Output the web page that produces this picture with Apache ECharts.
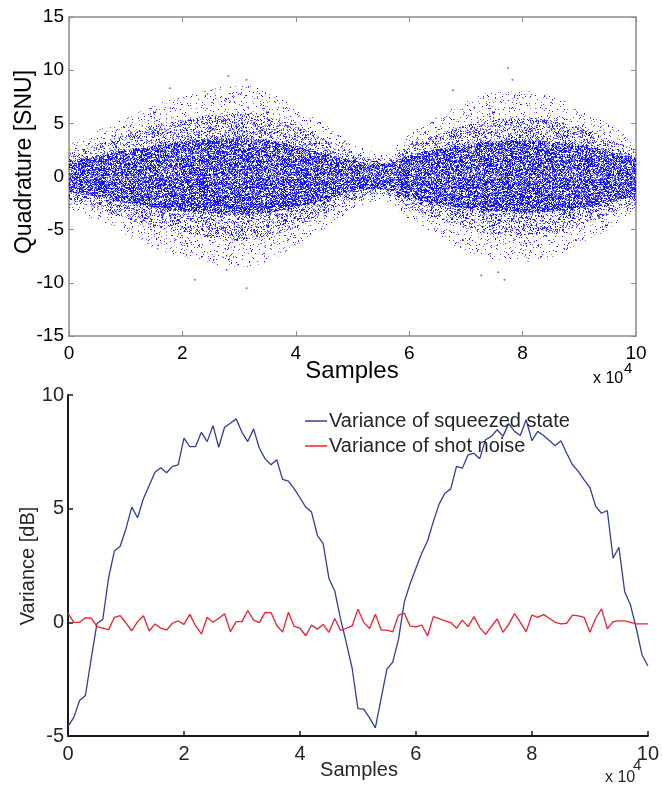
<!DOCTYPE html>
<html>
<head>
<meta charset="utf-8">
<script src="https://cdn.jsdelivr.net/npm/echarts@6/dist/echarts.min.js"></script>
<style>
  html, body { margin: 0; padding: 0; background: #fff; }
  #chart { width: 662px; height: 789px; }
</style>
</head>
<body>
<div id="chart"></div>
<script>
// top panel: spread of the quadrature cloud, every 5000 samples
var cloudX = [0, 5000, 10000, 15000, 20000, 25000, 30000, 35000, 40000, 45000, 50000,
              55000, 60000, 65000, 70000, 75000, 80000, 85000, 90000, 95000, 100000];
var coreHalf  = [1.5, 1.9, 2.5, 2.9, 3.3, 3.5, 3.6, 3.4, 2.9, 2.2, 1.5, 1.2, 2.0, 2.6, 3.0, 3.3, 3.4, 3.3, 3.0, 2.4, 1.8];
var midHalf   = [2.2, 3.0, 4.0, 4.8, 5.3, 5.8, 6.0, 5.6, 4.8, 3.5, 2.3, 1.7, 3.0, 4.0, 4.8, 5.4, 5.5, 5.3, 4.6, 3.6, 2.5];
var outerHalf = [3.0, 4.3, 5.5, 6.7, 7.5, 8.2, 8.5, 8.0, 6.5, 5.0, 3.2, 2.3, 4.0, 5.6, 7.0, 7.9, 8.0, 7.6, 6.3, 5.0, 3.2];
// single far-out points
var outlierX = [28100, 31300, 17800, 31300, 22200, 27800, 77400, 78200, 67700, 76800, 72700, 75700];
var outlierY = [9.45, 9.1, 8.3, -10.5, -9.7, -8.8, 10.2, 9.1, 8.1, -9.7, -9.3, -9.0];

// bottom panel: variance per block of 1000 samples
var varStep = 1000;
var varSqueezed = [-4.58, -4.18, -3.44, -3.22, -1.6, -0.05, 0.13, 1.96, 3.14, 3.35,
                   4.12, 5.07, 4.6, 5.44, 6.02, 6.6, 6.8, 6.58, 6.86, 6.93,
                   8.1, 7.73, 7.73, 8.36, 7.95, 8.65, 7.7, 8.58, 8.76, 8.95,
                   8.36, 7.95, 8.51, 7.66, 7.19, 6.93, 7.15, 6.29, 6.21, 5.88,
                   5.48, 5.07, 4.85, 3.83, 3.46, 1.93, 1.38, 0.15, -0.9, -2.02,
                   -3.8, -3.82, -4.2, -4.64, -3.35, -2.06, -1.75, -0.74, 0.9, 1.7,
                   2.38, 3.04, 3.58, 4.43, 5.2, 5.68, 5.87, 6.86, 6.78, 7.37,
                   7.44, 7.2, 8.03, 8.18, 8.47, 8.18, 8.74, 8.4, 8.22, 8.91,
                   7.99, 8.4, 8.22, 8.0, 7.77, 7.99, 7.44, 6.93, 6.64, 6.27,
                   5.93, 5.1, 4.8, 4.92, 2.82, 3.3, 1.35, 0.76, -0.26, -1.44,
                   -1.92];
var varShot = [0.39, 0, 0, 0.2, 0.18, -0.19, -0.25, -0.32, 0.22, 0.29,
               -0.03, -0.37, 0.03, 0.29, -0.38, -0.07, -0.26, -0.34, -0.04, 0.06,
               -0.09, 0.35, -0.15, -0.51, 0.22, 0, 0.18, 0.38, -0.41, 0.03,
               0.03, 0.52, 0.1, -0.01, 0.44, 0.43, -0.14, -0.43, 0.44, -0.18,
               -0.26, -0.59, -0.12, -0.3, -0.09, -0.44, 0.17, -0.36, -0.26, -0.16,
               0.58, 0, -0.27, 0.36, -0.34, -0.34, -0.42, 0.32, 0.4, -0.17,
               -0.2, -0.12, -0.6, 0.25, 0.16, 0.06, -0.01, -0.26, 0.1, -0.19,
               0.25, -0.23, -0.53, -0.19, 0.15, -0.44, -0.09, 0.38, 0, -0.41,
               0.32, 0.22, 0.34, 0.18, 0, -0.07, -0.04, 0.32, 0.28, 0.22,
               -0.44, 0.18, 0.59, -0.29, 0.03, 0.06, 0.06, 0, -0.07, -0.07,
               -0.07];
var seriesNames = ['Variance of squeezed state', 'Variance of shot noise'];

var FONT = '"Liberation Sans", Arial, Helvetica, sans-serif';

// speckle texture for the cloud fill (pure styling, fixed seed so it is the same every time)
function dotTile(size, coverage, seed) {
    var c = document.createElement('canvas');
    c.width = size; c.height = size;
    var g = c.getContext('2d');
    var s = seed;
    function next() { s = (s * 1103515245 + 12345) % 2147483648; return s / 2147483648; }
    var n = Math.round(size * size * coverage);
    for (var i = 0; i < n; i++) {
        var x = Math.floor(next() * size), y = Math.floor(next() * size);
        g.fillStyle = 'rgba(0,0,255,' + (0.4 + 0.6 * next()).toFixed(2) + ')';
        g.fillRect(x, y, 1, 1);
    }
    return {image: c, repeat: 'repeat'};
}
var outerTex = dotTile(113, 0.08, 11);
var midTex   = dotTile(107, 0.28, 29);
var coreTex  = dotTile(101, 0.8, 53);

function band(half, sign, tex) {
    var data = [];
    for (var i = 0; i < cloudX.length; i++) data.push([cloudX[i], sign * half[i]]);
    return {
        type: 'line', xAxisIndex: 0, yAxisIndex: 0,
        data: data, smooth: true, symbol: 'none', silent: true,
        lineStyle: {width: 0, opacity: 0},
        areaStyle: {color: tex, opacity: 1, origin: 0}
    };
}

function pairs(vals) {
    var out = [];
    for (var i = 0; i < vals.length; i++) out.push([i * varStep, vals[i]]);
    return out;
}
var outliers = [];
for (var k = 0; k < outlierX.length; k++) outliers.push([outlierX[k], outlierY[k]]);

var grayAxis = {onZero: false, lineStyle: {color: '#8c8c8c', width: 1.5}};
var grayTick = {show: true, inside: true, length: 5, lineStyle: {color: '#8c8c8c', width: 1}};
var blackAxis = {onZero: false, lineStyle: {color: '#1a1a1a', width: 2}};
var blackTick = {show: true, inside: true, length: 5, lineStyle: {color: '#1a1a1a', width: 1.5}};

var chart = echarts.init(document.getElementById('chart'));
var option = {
    animation: false,
    backgroundColor: '#fff',
    grid: [
        {left: 69, top: 17, width: 567, height: 319},
        {left: 68, top: 395, width: 582, height: 341}
    ],
    xAxis: [
        {type: 'value', gridIndex: 0, min: 0, max: 100000, interval: 20000, position: 'bottom',
         axisLine: grayAxis, axisTick: grayTick, splitLine: {show: false},
         axisLabel: {color: '#000', fontSize: 19, fontFamily: FONT, margin: 8,
                     formatter: function (v) { return v / 10000; }}},
        {type: 'value', gridIndex: 0, min: 0, max: 100000, interval: 20000, position: 'top',
         axisLine: grayAxis, axisTick: grayTick, splitLine: {show: false}, axisLabel: {show: false}},
        {type: 'value', gridIndex: 1, min: 0, max: 100000, interval: 20000, position: 'bottom',
         axisLine: blackAxis, axisTick: blackTick, splitLine: {show: false},
         axisLabel: {color: '#262626', fontSize: 20, fontFamily: FONT, margin: 8,
                     formatter: function (v) { return v / 10000; }}}
    ],
    yAxis: [
        {type: 'value', gridIndex: 0, min: -15, max: 15, interval: 5, position: 'left',
         axisLine: grayAxis, axisTick: grayTick, splitLine: {show: false},
         axisLabel: {color: '#000', fontSize: 19, fontFamily: FONT, margin: 5}},
        {type: 'value', gridIndex: 0, min: -15, max: 15, interval: 5, position: 'right',
         axisLine: grayAxis, axisTick: grayTick, splitLine: {show: false}, axisLabel: {show: false}},
        {type: 'value', gridIndex: 1, min: -5, max: 10, interval: 5, position: 'left',
         axisLine: blackAxis, axisTick: blackTick, splitLine: {show: false},
         axisLabel: {color: '#262626', fontSize: 20, fontFamily: FONT, margin: 4}}
    ],
    legend: {
        orient: 'vertical', left: 305, top: 411, padding: 0,
        icon: 'rect', itemWidth: 22, itemHeight: 1.5, itemGap: 5,
        textStyle: {color: '#262626', fontSize: 20, fontFamily: FONT, padding: [0, 0, 0, -3]},
        data: seriesNames
    },
    series: [
        band(outerHalf, 1, outerTex), band(outerHalf, -1, outerTex),
        band(midHalf, 1, midTex), band(midHalf, -1, midTex),
        band(coreHalf, 1, coreTex), band(coreHalf, -1, coreTex),
        {type: 'scatter', xAxisIndex: 0, yAxisIndex: 0, data: outliers, symbolSize: 2,
         itemStyle: {color: 'rgba(0,0,255,0.7)'}, silent: true},
        {name: seriesNames[0], type: 'line', xAxisIndex: 2, yAxisIndex: 2, data: pairs(varSqueezed),
         symbol: 'none', lineStyle: {color: '#2f3f9f', width: 1.3}, itemStyle: {color: '#2f3f9f'}},
        {name: seriesNames[1], type: 'line', xAxisIndex: 2, yAxisIndex: 2, data: pairs(varShot),
         symbol: 'none', lineStyle: {color: '#f0202c', width: 1.3}, itemStyle: {color: '#f0202c'}}
    ],
    graphic: [
        {type: 'text', x: 25, y: 162, rotation: Math.PI / 2,
         style: {text: 'Quadrature [SNU]', fontSize: 23, fontFamily: FONT, fill: '#000',
                 textAlign: 'center', textVerticalAlign: 'middle'}},
        {type: 'text', x: 352, y: 371,
         style: {text: 'Samples', fontSize: 24, fontFamily: FONT, fill: '#000',
                 textAlign: 'center', textVerticalAlign: 'middle'}},
        {type: 'text', x: 593, y: 379,
         style: {text: 'x 10', fontSize: 16, fontFamily: FONT, fill: '#000',
                 textAlign: 'left', textVerticalAlign: 'middle'}},
        {type: 'text', x: 624, y: 369,
         style: {text: '4', fontSize: 15, fontFamily: FONT, fill: '#000',
                 textAlign: 'left', textVerticalAlign: 'middle'}},
        {type: 'text', x: 28, y: 566, rotation: Math.PI / 2,
         style: {text: 'Variance [dB]', fontSize: 20, fontFamily: FONT, fill: '#262626',
                 textAlign: 'center', textVerticalAlign: 'middle'}},
        {type: 'text', x: 359, y: 770,
         style: {text: 'Samples', fontSize: 20, fontFamily: FONT, fill: '#262626',
                 textAlign: 'center', textVerticalAlign: 'middle'}},
        {type: 'text', x: 605, y: 778,
         style: {text: 'x 10', fontSize: 16, fontFamily: FONT, fill: '#262626',
                 textAlign: 'left', textVerticalAlign: 'middle'}},
        {type: 'text', x: 633, y: 766,
         style: {text: '4', fontSize: 15, fontFamily: FONT, fill: '#262626',
                 textAlign: 'left', textVerticalAlign: 'middle'}}
    ]
};
chart.setOption(option);
</script>
</body>
</html>
